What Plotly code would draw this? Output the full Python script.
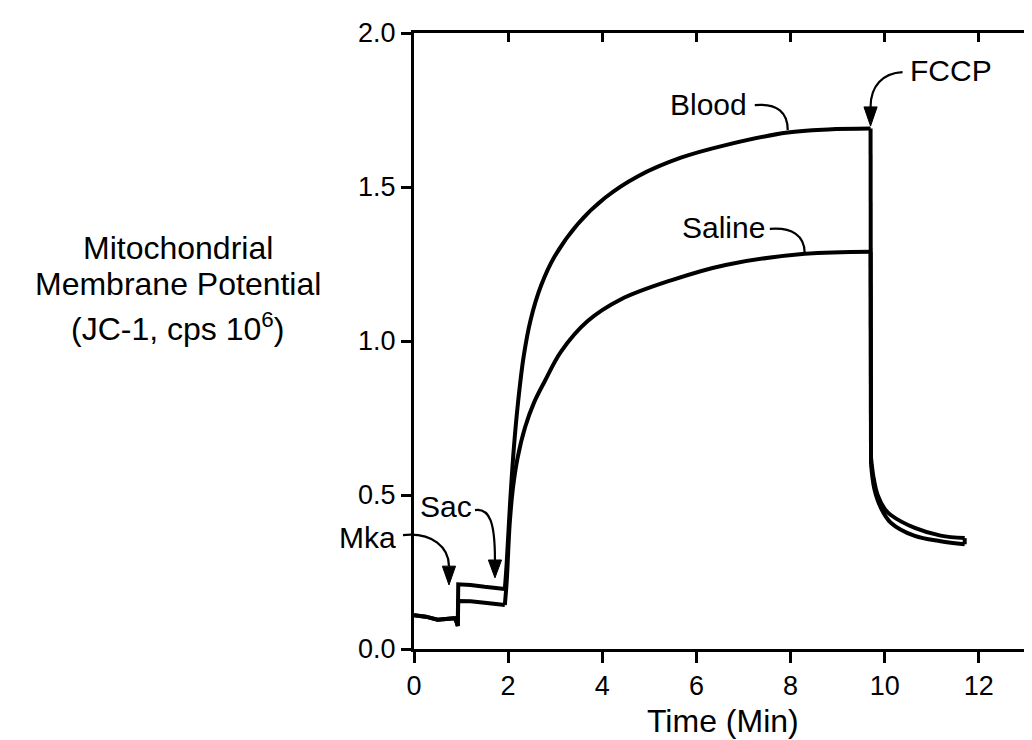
import plotly.graph_objects as go

# ---- data ----
blood_t = [0, 0.25, 0.5, 0.7, 0.87, 0.91, 0.93, 0.94, 1.2, 1.5, 1.85, 1.93,
           1.97, 2.04, 2.12, 2.21, 2.33, 2.48, 2.7, 2.99, 3.48,
           4.06, 4.76, 5.67, 6.62, 7.94, 8.8, 9.7,
           9.71, 9.76, 9.85, 10.0, 10.13, 10.64, 11.19, 11.7, 11.7]
blood_v = [0.11, 0.105, 0.095, 0.097, 0.10, 0.085, 0.075, 0.21, 0.208, 0.202, 0.197, 0.195,
           0.28, 0.47, 0.65, 0.80, 0.95, 1.07, 1.18, 1.275, 1.38,
           1.465, 1.535, 1.595, 1.636, 1.677, 1.687, 1.69,
           0.62, 0.56, 0.50, 0.455, 0.435, 0.393, 0.368, 0.36, 0.34]

saline_t = [0, 0.25, 0.5, 0.7, 0.87, 0.91, 0.93, 0.94, 1.2, 1.5, 1.85, 1.93,
            1.97, 2.03, 2.1, 2.2, 2.36, 2.55, 2.78, 3.12, 3.69, 4.39,
            5.46, 6.62, 8.3, 9.7,
            9.71, 9.78, 9.92, 10.13, 10.64, 11.19, 11.7]
saline_v = [0.11, 0.105, 0.095, 0.097, 0.10, 0.085, 0.075, 0.156, 0.155, 0.150, 0.145, 0.143,
            0.22, 0.40, 0.52, 0.62, 0.72, 0.80, 0.87, 0.965, 1.065, 1.135,
            1.197, 1.247, 1.283, 1.29,
            0.60, 0.52, 0.458, 0.41, 0.367, 0.35, 0.34]

x_ticks = [0, 2, 4, 6, 8, 10, 12]
y_ticks = [0.0, 0.5, 1.0, 1.5, 2.0]
y_ticktext = ["0.0", "0.5", "1.0", "1.5", "2.0"]

XMAX = 13.3
YMAX = 2.0
FONT = "Liberation Sans, Arial, Helvetica, sans-serif"

fig = go.Figure()


def add_series(t, v):
    """Draw a trace in pieces: steps stay straight, smooth stretches use splines."""
    rise = t.index(1.93)          # start of the Sac response
    top = t.index(9.7)            # FCCP addition
    end = len(t)
    last = end - 1 if t[-1] == t[-2] else end   # square end cap of the trace
    pieces = [
        (0, rise + 1, "linear"),
        (rise, top + 1, "spline"),
        (top, top + 2, "linear"),
        (top + 1, last, "spline"),
    ]
    if last != end:
        pieces.append((last - 1, end, "linear"))
    for a, b, shape in pieces:
        fig.add_trace(go.Scatter(x=t[a:b], y=v[a:b], mode="lines",
                                 line=dict(color="black", width=4, shape=shape, smoothing=1.0),
                                 showlegend=False, hoverinfo="skip"))


add_series(blood_t, blood_v)
add_series(saline_t, saline_v)

# invisible trace so that the mirrored (top/right) axes get drawn
fig.add_trace(go.Scatter(x=[0], y=[0], xaxis="x2", yaxis="y2", mode="lines",
                         opacity=0, showlegend=False, hoverinfo="skip"))


def P(t, v):
    """data -> paper coordinates (plot area spans the full axis ranges)"""
    return t / XMAX, v / YMAX


def curve(p0, c1, c2, p1):
    pts = [P(*p) for p in (p0, c1, c2, p1)]
    return "M {0[0]},{0[1]} C {1[0]},{1[1]} {2[0]},{2[1]} {3[0]},{3[1]}".format(*pts)


def head(tip, base_v, half=0.14):
    a = P(tip[0] - half, base_v)
    b = P(tip[0] + half, base_v)
    c = P(*tip)
    return "M {0[0]},{0[1]} L {1[0]},{1[1]} L {2[0]},{2[1]} Z".format(a, b, c)


callouts = [
    # (text, text pos, curve p0, c1, c2, p1, arrow tip or None)
    ("Mka", (-0.98, 0.362), (-0.234, 0.370), (0.403, 0.380), (0.743, 0.328), (0.743, 0.269), (0.743, 0.208)),
    ("Sac", (0.68, 0.463), (1.295, 0.451), (1.614, 0.458), (1.720, 0.409), (1.720, 0.289), (1.720, 0.231)),
    ("FCCP", (11.40, 1.877), (10.38, 1.873), (9.96, 1.870), (9.70, 1.828), (9.70, 1.760), (9.70, 1.698)),
    ("Blood", (6.26, 1.769), (7.24, 1.766), (7.73, 1.773), (7.94, 1.740), (7.94, 1.685), None),
    ("Saline", (6.58, 1.370), (7.56, 1.364), (8.04, 1.370), (8.30, 1.341), (8.30, 1.286), None),
]

shapes = []
annotations = []
for text, tp, p0, c1, c2, p1, tip in callouts:
    shapes.append(dict(type="path", xref="paper", yref="paper", path=curve(p0, c1, c2, p1),
                       line=dict(color="black", width=2.2)))
    if tip is not None:
        shapes.append(dict(type="path", xref="paper", yref="paper", path=head(tip, p1[1]),
                           line=dict(color="black", width=1), fillcolor="black"))
    x, y = P(*tp)
    annotations.append(dict(text=text, x=x, y=y, xref="paper", yref="paper",
                            xanchor="center", yanchor="middle", showarrow=False,
                            font=dict(family=FONT, size=30, color="black")))

# y-axis title (three stacked lines)
for txt, yy in (("Mitochondrial", 0.651), ("Membrane Potential", 0.592),
                ("(JC-1, cps 10<sup>6</sup>)", 0.522)):
    annotations.append(dict(text=txt, x=-0.377, y=yy, xref="paper", yref="paper",
                            xanchor="center", yanchor="middle", showarrow=False,
                            font=dict(family=FONT, size=32, color="black")))
# x-axis title
annotations.append(dict(text="Time (Min)", x=0.494, y=-0.117, xref="paper", yref="paper",
                        xanchor="center", yanchor="middle", showarrow=False,
                        font=dict(family=FONT, size=32, color="black")))

axis_common = dict(showgrid=False, zeroline=False, linecolor="black", tickcolor="black")

fig.update_layout(
    width=1032, height=740,
    margin=dict(l=406, r=0, t=25, b=99),
    paper_bgcolor="white", plot_bgcolor="white",
    font=dict(family=FONT, color="black"),
    xaxis=dict(range=[0, XMAX], tickvals=x_ticks, ticks="outside", ticklen=11, tickwidth=2.5,
               showline=True, linewidth=3, tickfont=dict(size=27), **axis_common),
    yaxis=dict(range=[0, YMAX], tickvals=y_ticks, ticktext=y_ticktext, ticks="outside",
               ticklen=10, tickwidth=2.5, showline=True, linewidth=3,
               tickfont=dict(size=27), **axis_common),
    xaxis2=dict(range=[0, XMAX], overlaying="x", side="top", tickvals=x_ticks, ticks="inside",
                ticklen=9, tickwidth=2.5, showline=True, linewidth=3, showticklabels=False,
                **axis_common),
    yaxis2=dict(range=[0, YMAX], overlaying="y", side="right", tickvals=[0.5, 1.0, 1.5],
                ticks="inside", ticklen=7, tickwidth=3, showline=False, showticklabels=False,
                **axis_common),
    shapes=shapes,
    annotations=annotations,
)

fig.write_html("out.html")
